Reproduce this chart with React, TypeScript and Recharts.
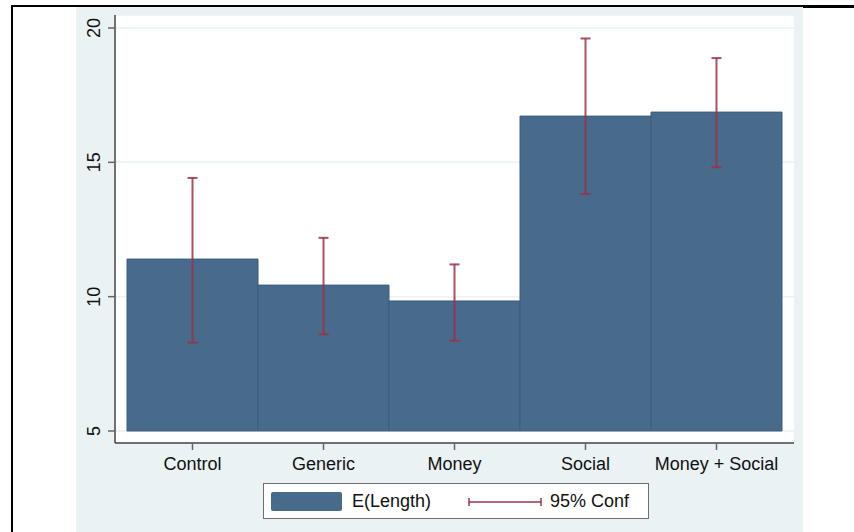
import React from 'react'
import { ComposedChart, Bar, Line, ErrorBar, XAxis, YAxis, CartesianGrid } from 'recharts'

const groups = ['Control', 'Generic', 'Money', 'Social', 'Money + Social']
const means = [11.4, 10.43, 9.84, 16.72, 16.87]
const ciLow = [8.29, 8.6, 8.36, 13.82, 14.82]
const ciHigh = [14.42, 12.19, 11.2, 19.61, 18.88]
const yTicks = [5, 10, 15, 20]
const baseValue = 5

const BAR_COLOR = '#486a8b'
const CI_COLOR = '#9a3344'
const BG = '#eaf2f3'
const FONT = '"Liberation Sans", Arial, Helvetica, sans-serif'

const data = groups.map((name, i) => ({
  name,
  range: [baseValue, means[i]],
  mean: means[i],
  ci: [means[i] - ciLow[i], ciHigh[i] - means[i]],
}))

function YTick(props: any) {
  const { x, y, payload } = props
  const bx = x - 6
  return (
    <text
      x={bx}
      y={y}
      transform={`rotate(-90, ${bx}, ${y})`}
      textAnchor="middle"
      fontSize={18}
      fontFamily={FONT}
      fill="#111"
    >
      {payload.value}
    </text>
  )
}

function XTick(props: any) {
  const { x, y, payload } = props
  return (
    <text x={x} y={y + 18} textAnchor="middle" fontSize={18} fontFamily={FONT} fill="#111">
      {payload.value}
    </text>
  )
}

function LegendBox() {
  return (
    <div
      style={{
        position: 'absolute',
        left: 263,
        top: 483,
        width: 384,
        height: 34,
        background: '#fff',
        border: '1px solid #6e6e6e',
        fontFamily: FONT,
        fontSize: 18,
        color: '#111',
      }}
    >
      <div
        style={{
          position: 'absolute',
          left: 7,
          top: 8,
          width: 71,
          height: 19,
          background: BAR_COLOR,
          borderRadius: 2,
        }}
      />
      <span style={{ position: 'absolute', left: 88, top: 6, lineHeight: '22px' }}>E(Length)</span>
      <svg style={{ position: 'absolute', left: 203, top: 12 }} width={76} height={12}>
        <line x1={2} y1={6} x2={74} y2={6} stroke={CI_COLOR} strokeWidth={1.5} />
        <line x1={2} y1={2} x2={2} y2={10} stroke={CI_COLOR} strokeWidth={1.5} />
        <line x1={74} y1={2} x2={74} y2={10} stroke={CI_COLOR} strokeWidth={1.5} />
      </svg>
      <span style={{ position: 'absolute', left: 286, top: 6, lineHeight: '22px' }}>95% Conf</span>
    </div>
  )
}

export default function App() {
  return (
    <div style={{ position: 'absolute', left: 0, top: 0, width: 854, height: 532, background: '#fff', overflow: 'hidden' }}>
      {/* outer frame */}
      <div style={{ position: 'absolute', left: 11, top: 5, width: 792, height: 2, background: '#000' }} />
      <div style={{ position: 'absolute', left: 803, top: 5, width: 51, height: 3, background: '#000' }} />
      <div style={{ position: 'absolute', left: 11, top: 5, width: 2, height: 527, background: '#000' }} />
      {/* graph region */}
      <div style={{ position: 'absolute', left: 76, top: 7, width: 727, height: 525, background: BG }} />
      <div style={{ position: 'absolute', left: 0, top: 0 }}>
        <ComposedChart
          width={854}
          height={532}
          data={data}
          margin={{ top: 15, right: 60, bottom: 59, left: 0 }}
          barCategoryGap={0}
          barGap={0}
        >
          <CartesianGrid horizontal vertical={false} stroke={BG} strokeWidth={1.5} fill="#ffffff" fillOpacity={1} />
          <XAxis
            dataKey="name"
            height={30}
            padding={{ left: 12, right: 12 }}
            tickSize={7}
            tick={<XTick />}
            axisLine={{ stroke: '#444', strokeWidth: 1.5 }}
            tickLine={{ stroke: '#666', strokeWidth: 1.5 }}
            interval={0}
          />
          <YAxis
            width={115}
            type="number"
            domain={[4.553, 20.484]}
            allowDataOverflow
            ticks={yTicks}
            tickSize={7}
            tick={<YTick />}
            axisLine={{ stroke: '#444', strokeWidth: 1.5 }}
            tickLine={{ stroke: '#666', strokeWidth: 1.5 }}
          />
          <Bar dataKey="range" fill={BAR_COLOR} stroke="#3b5d80" strokeWidth={1} isAnimationActive={false} />
          <Line dataKey="mean" stroke="none" dot={false} activeDot={false} isAnimationActive={false}>
            <ErrorBar dataKey="ci" width={5} stroke={CI_COLOR} strokeWidth={2} strokeOpacity={0.85} direction="y" />
          </Line>
        </ComposedChart>
      </div>
      <LegendBox />
    </div>
  )
}
